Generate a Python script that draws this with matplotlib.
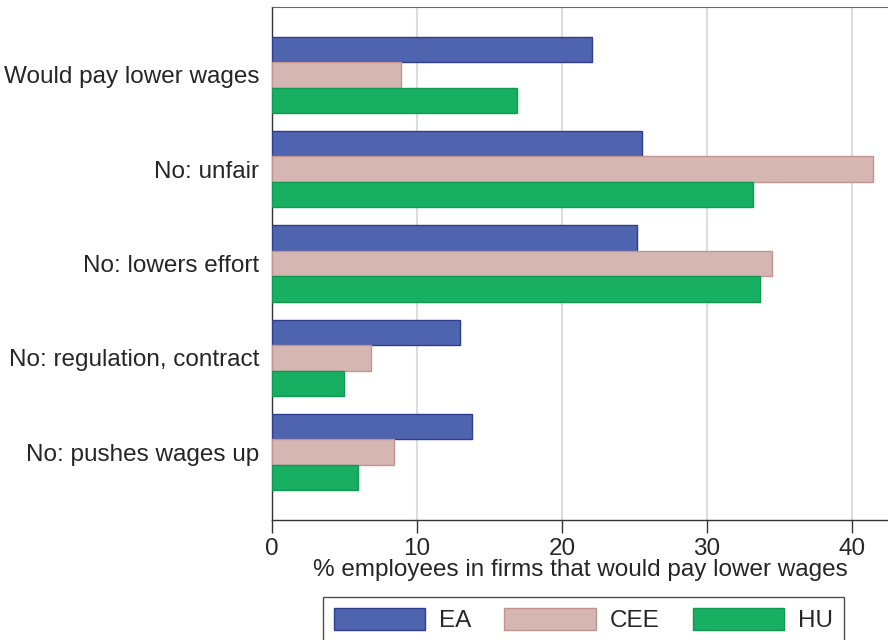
import numpy as np
import matplotlib
matplotlib.use("Agg")
import matplotlib.pyplot as plt

# Data
categories = ["Would pay lower wages", "No: unfair", "No: lowers effort",
              "No: regulation, contract", "No: pushes wages up"]
ea = [22.1, 25.5, 25.2, 13.0, 13.8]
cee = [8.9, 41.45, 34.5, 6.8, 8.4]
hu = [16.9, 33.2, 33.7, 5.0, 5.9]
series_names = ["EA", "CEE", "HU"]

plt.rcParams["font.family"] = ["Liberation Sans", "DejaVu Sans"]
text_col = "#262626"
fs = 17.5

fig = plt.figure(figsize=(8.88, 6.4), dpi=100)
ax = fig.add_axes([272 / 888, 1 - 520 / 640, 1 - 272 / 888, (520 - 7) / 640])

y = np.arange(len(categories))
h = 0.27
colors = ["#4F64AF", "#D6B6B3", "#18AF63"]
edges = ["#2E3D8F", "#C09590", "#0E9A50"]
for i, (vals, name) in enumerate(zip([ea, cee, hu], series_names)):
    ax.barh(y + (i - 1) * h, vals, height=h, color=colors[i],
            edgecolor=edges[i], linewidth=1, label=name, zorder=3)

ax.set_ylim(4.72, -0.72)
ax.set_xlim(0, 42.5)
ax.set_yticks(y)
ax.set_yticklabels(categories, fontsize=fs, color=text_col)
ax.tick_params(axis="y", length=0, pad=9)
ax.set_xticks([0, 10, 20, 30, 40])
ax.tick_params(axis="x", length=9, width=1, direction="out", labelsize=fs,
               labelcolor=text_col, color="#333333", pad=4)
ax.grid(axis="x", color="#DDDDDD", linewidth=1.5, zorder=0)
ax.set_xlabel("% employees in firms that would pay lower wages", fontsize=fs,
              color=text_col, labelpad=-1)

for s in ["left", "bottom"]:
    ax.spines[s].set_color("#333333")
    ax.spines[s].set_linewidth(1)
ax.spines["top"].set_color("#666666")
ax.spines["right"].set_visible(False)

fig.legend(loc="upper center", bbox_to_anchor=(583.5 / 888, 1 - 597 / 640),
           ncol=3, fontsize=fs, frameon=True, fancybox=False,
           edgecolor="#222222", handlelength=3.75, handleheight=1.0,
           handletextpad=0.6, columnspacing=1.35, borderpad=0.45,
           borderaxespad=0, labelcolor=text_col)

fig.savefig("out.png", dpi=100)
